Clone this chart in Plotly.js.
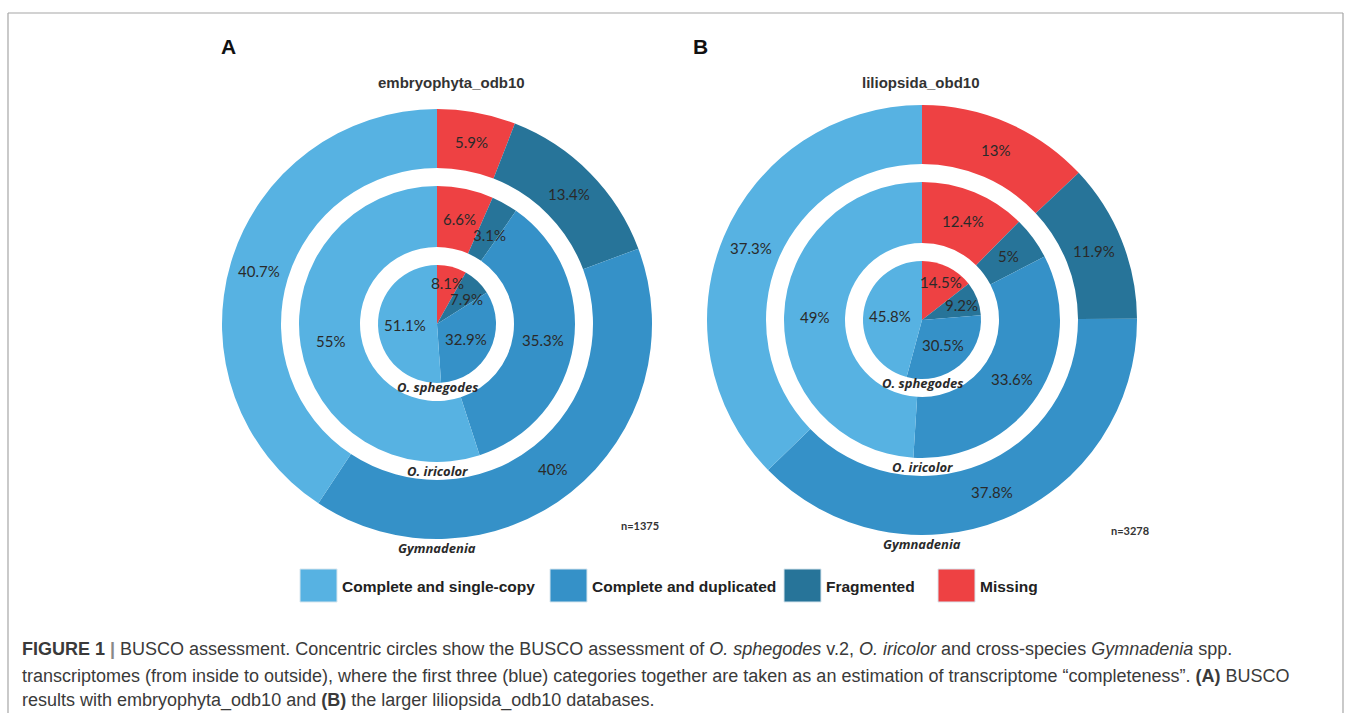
<!DOCTYPE html>
<html><head><meta charset="utf-8">
<script src="https://cdn.plot.ly/plotly-3.0.1.min.js"></script>
<style>html,body{margin:0;padding:0;background:#fff}#chart{width:1355px;height:713px}</style>
</head><body><div id="chart"></div>
<script>
// ---- data ----
const categories = ['Missing', 'Fragmented', 'Complete and duplicated', 'Complete and single-copy'];
const legendOrder = ['Complete and single-copy', 'Complete and duplicated', 'Fragmented', 'Missing'];
const ringNames = ['O. sphegodes', 'O. iricolor', 'Gymnadenia'];
const panelLetters = ['A', 'B'];
const panelTitles = ['embryophyta_odb10', 'liliopsida_obd10'];
const panelN = ['n=1375', 'n=3278'];
const embryoSphegodes = [8.1, 7.9, 32.9, 51.1];
const embryoIricolor = [6.6, 3.1, 35.3, 55];
const embryoGymnadenia = [5.9, 13.4, 40, 40.7];
const lilioSphegodes = [14.5, 9.2, 30.5, 45.8];
const lilioIricolor = [12.4, 5, 33.6, 49];
const lilioGymnadenia = [13, 11.9, 37.8, 37.3];

// ---- styles / layout ----
const colorMap = {
  'Missing': '#EE4143',
  'Fragmented': '#277499',
  'Complete and duplicated': '#3591C8',
  'Complete and single-copy': '#57B2E2'
};
const W = 1355, H = 713;
const panels = [
  {cx: 437, cy: 324, rings: [embryoSphegodes, embryoIricolor, embryoGymnadenia], titleX: 452, letterX: 228, nX: 640, nY: 525},
  {cx: 922, cy: 320, rings: [lilioSphegodes, lilioIricolor, lilioGymnadenia], titleX: 921, letterX: 700, nX: 1130, nY: 530}
];
const outerR = [59, 138, 215];
const innerR = [0, 77, 156];
const nameOffset = [63, 147, 224];
const pctFont = 15;

const px = x => x / W;
const py = y => 1 - y / H;

const traces = [];
const annotations = [];
const shapes = [];

function ann(x, y, text, font, xanchor) {
  annotations.push({x: px(x), y: py(y), xref: 'paper', yref: 'paper', showarrow: false,
    xanchor: xanchor || 'center', yanchor: 'middle', text: text, font: font});
}

panels.forEach((p, pi) => {
  p.rings.forEach((vals, ri) => {
    const r = outerR[ri];
    traces.push({
      type: 'pie',
      values: vals,
      labels: categories,
      name: ringNames[ri],
      sort: false,
      direction: 'clockwise',
      rotation: 0,
      hole: innerR[ri] / r,
      marker: {colors: categories.map(c => colorMap[c]), line: {width: 0}},
      textinfo: 'none',
      hovertemplate: ringNames[ri] + '<br>%{label}: %{value}%<extra></extra>',
      showlegend: false,
      domain: {x: [px(p.cx - r), px(p.cx + r)], y: [py(p.cy + r), py(p.cy - r)]}
    });
    // percentage labels at slice mid-angle, nudged apart if they collide
    let cum = 0;
    const total = vals.reduce((a, b) => a + b, 0);
    const placed = [];
    vals.forEach(v => {
      const th = 2 * Math.PI * (cum + v / 2) / total;
      cum += v;
      let rr;
      if (innerR[ri] === 0) rr = (v < 15 ? 0.72 : 0.55) * r;
      else rr = (r + innerR[ri]) / 2;
      const txt = v + '%';
      const box = {x: p.cx + rr * Math.sin(th), y: p.cy - rr * Math.cos(th), w: txt.length * 8.4, h: 15};
      placed.forEach(q => {
        if (Math.abs(q.x - box.x) < (q.w + box.w) / 2 && Math.abs(q.y - box.y) < (q.h + box.h) / 2) {
          box.y = q.y + (q.h + box.h) / 2 + 1;
        }
      });
      placed.push(box);
      ann(box.x, box.y, txt, {family: 'Lato, sans-serif', size: pctFont, color: '#2a2a2a'});
    });
    ann(p.cx, p.cy + nameOffset[ri], '<b><i>' + ringNames[ri] + '</i></b>',
      {family: 'Open Sans, sans-serif', size: 13, color: '#2a2a2a'});
  });
  ann(p.letterX, 47, '<b>' + panelLetters[pi] + '</b>', {family: 'Liberation Sans, Arial, sans-serif', size: 21, color: '#111'});
  ann(p.titleX, 82, '<b>' + panelTitles[pi] + '</b>', {family: 'Liberation Sans, Arial, sans-serif', size: 15, color: '#333'});
  ann(p.nX, p.nY, '<b>' + panelN[pi] + '</b>', {family: 'Lato, sans-serif', size: 11, color: '#333'});
});

// custom legend (large square keys)
const legendX = [300, 550, 784, 938];
legendOrder.forEach((c, i) => {
  shapes.push({type: 'rect', xref: 'paper', yref: 'paper',
    x0: px(legendX[i]), x1: px(legendX[i] + 37), y0: py(602), y1: py(569),
    fillcolor: colorMap[c], line: {color: '#d8e6ee', width: 1}});
  ann(legendX[i] + 40, 586, '<b>' + c + '</b>', {family: 'Liberation Sans, Arial, sans-serif', size: 15.5, color: '#222'}, 'left');
});

// frame
const frame = '#a6a6a6';
shapes.push({type: 'line', xref: 'paper', yref: 'paper', x0: px(8), x1: px(1343), y0: py(13), y1: py(13), line: {color: frame, width: 1.2}});
shapes.push({type: 'line', xref: 'paper', yref: 'paper', x0: px(8), x1: px(8), y0: py(13), y1: 0, line: {color: frame, width: 1.2}});
shapes.push({type: 'line', xref: 'paper', yref: 'paper', x0: px(1343), x1: px(1343), y0: py(13), y1: 0, line: {color: frame, width: 1.2}});

// caption
const captionLines = [
  '<b>FIGURE 1</b> <b style="color:#888">|</b> BUSCO assessment. Concentric circles show the BUSCO assessment of <i>O. sphegodes</i> v.2, <i>O. iricolor</i> and cross-species <i>Gymnadenia</i> spp.',
  'transcriptomes (from inside to outside), where the first three (blue) categories together are taken as an estimation of transcriptome \u201ccompleteness\u201d. <b>(A)</b> BUSCO',
  'results with embryophyta_odb10 and <b>(B)</b> the larger liliopsida_odb10 databases.'
];
const captionY = [649, 676, 700];
captionLines.forEach((t, i) => {
  ann(20, captionY[i], t, {family: 'Liberation Sans, Arial, sans-serif', size: 18, color: '#3a3a3a'}, 'left');
});

const layout = {
  width: W, height: H,
  margin: {l: 0, r: 0, t: 0, b: 0},
  paper_bgcolor: '#fff',
  showlegend: false,
  annotations: annotations,
  shapes: shapes
};
Plotly.newPlot('chart', traces, layout, {displayModeBar: false, staticPlot: true});
</script>
</body></html>
